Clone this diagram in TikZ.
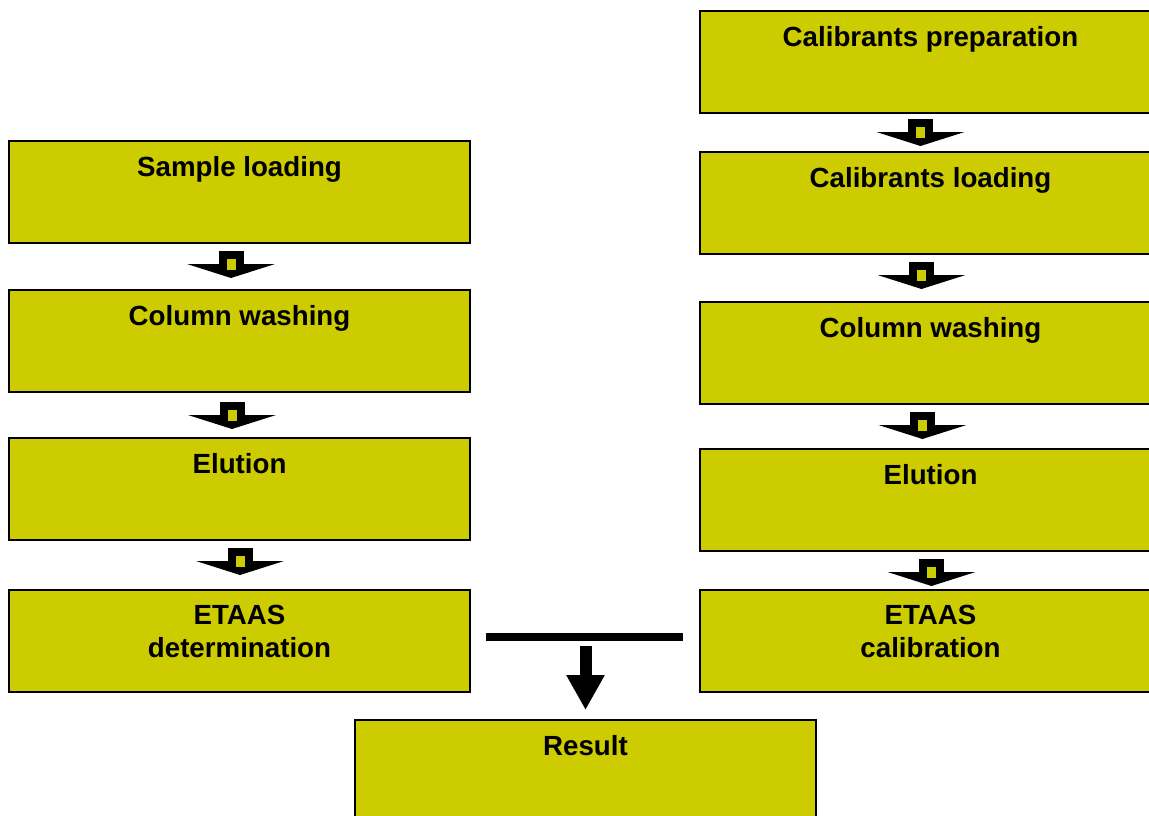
\documentclass[tikz,border=0pt]{standalone}
\usepackage{fontspec}
\setmainfont{Liberation Sans}
\usetikzlibrary{arrows.meta,calc}
\definecolor{boxyel}{HTML}{CCCC00}
\tikzset{
  x=1pt, y=-1pt,
  stepbox/.style={draw=black, line width=2pt, fill=boxyel, anchor=north west,
    minimum width=461pt, minimum height=102pt, inner sep=0pt, outer sep=0pt},
  steplabel/.style={anchor=north, inner sep=0pt, align=center,
    font=\fontsize{27.7}{33.2}\selectfont\bfseries},
  pics/blockarrow/.style={code={
    \fill[black] (-12.5,0) rectangle (12.5,14);
    \fill[black] (-44,13) -- (44,13) -- (0,27) -- cycle;
    \fill[boxyel] (-4.5,8) rectangle (4.5,19);
  }}
}
\begin{document}
\begin{tikzpicture}
\useasboundingbox (0,0) rectangle (1149,816);
\clip (0,0) rectangle (1149,816);
\fill[white] (0,0) rectangle (1149,816);
% left column
\node[stepbox] (sl) at (9,141) {};
\node[stepbox] (cw) at (9,290) {};
\node[stepbox] (el) at (9,438) {};
\node[stepbox] (ed) at (9,590) {};
% right column
\node[stepbox] (cp) at (700,11) {};
\node[stepbox] (cl) at (700,152) {};
\node[stepbox] (cw2) at (700,302) {};
\node[stepbox] (el2) at (700,449) {};
\node[stepbox] (ec) at (700,590) {};
% result
\node[stepbox] (res) at (355,720) {};
% labels
\node[steplabel] (tsl) at ([yshift=-15]sl.north) {Sample loading};
\node[steplabel] (tcw) at ([yshift=-15]cw.north) {Column washing};
\node[steplabel] (tel) at ([yshift=-15]el.north) {Elution};
\node[steplabel] (ted) at ([yshift=-15]ed.north) {ETAAS\\determination};
\node[steplabel] (tcp) at ([yshift=-15]cp.north) {Calibrants preparation};
\node[steplabel] (tcl) at ([yshift=-15]cl.north) {Calibrants loading};
\node[steplabel] (tcw2) at ([yshift=-15]cw2.north) {Column washing};
\node[steplabel] (tel2) at ([yshift=-15]el2.north) {Elution};
\node[steplabel] (tec) at ([yshift=-15]ec.north) {ETAAS\\calibration};
\node[steplabel] (tres) at ([yshift=-15]res.north) {Result};
% block arrows between steps
\pic at ([xshift=-8.5,yshift=-8]sl.south) {blockarrow};
\pic at ([xshift=-7.5,yshift=-10]cw.south) {blockarrow};
\pic at ([xshift=0.5,yshift=-8]el.south) {blockarrow};
\pic at ([xshift=-10,yshift=-6]cp.south) {blockarrow};
\pic at ([xshift=-9,yshift=-8]cl.south) {blockarrow};
\pic at ([xshift=-8,yshift=-8]cw2.south) {blockarrow};
\pic at ([xshift=1,yshift=-8]el2.south) {blockarrow};
% junction bar and arrow to result
\coordinate (bl) at ([xshift=16,yshift=4]ed.east);
\coordinate (br) at ([xshift=-17,yshift=4]ec.west);
\draw[line width=8pt] (bl) -- (br);
\coordinate (tj) at ($(bl)!0.5!(br)$);
\coordinate (tjtop) at ([yshift=-9]tj -| res.north);
\draw[line width=12pt, -{Triangle[width=36pt,length=35pt]}] (tjtop) -- ([yshift=10]res.north);
\end{tikzpicture}
\end{document}
